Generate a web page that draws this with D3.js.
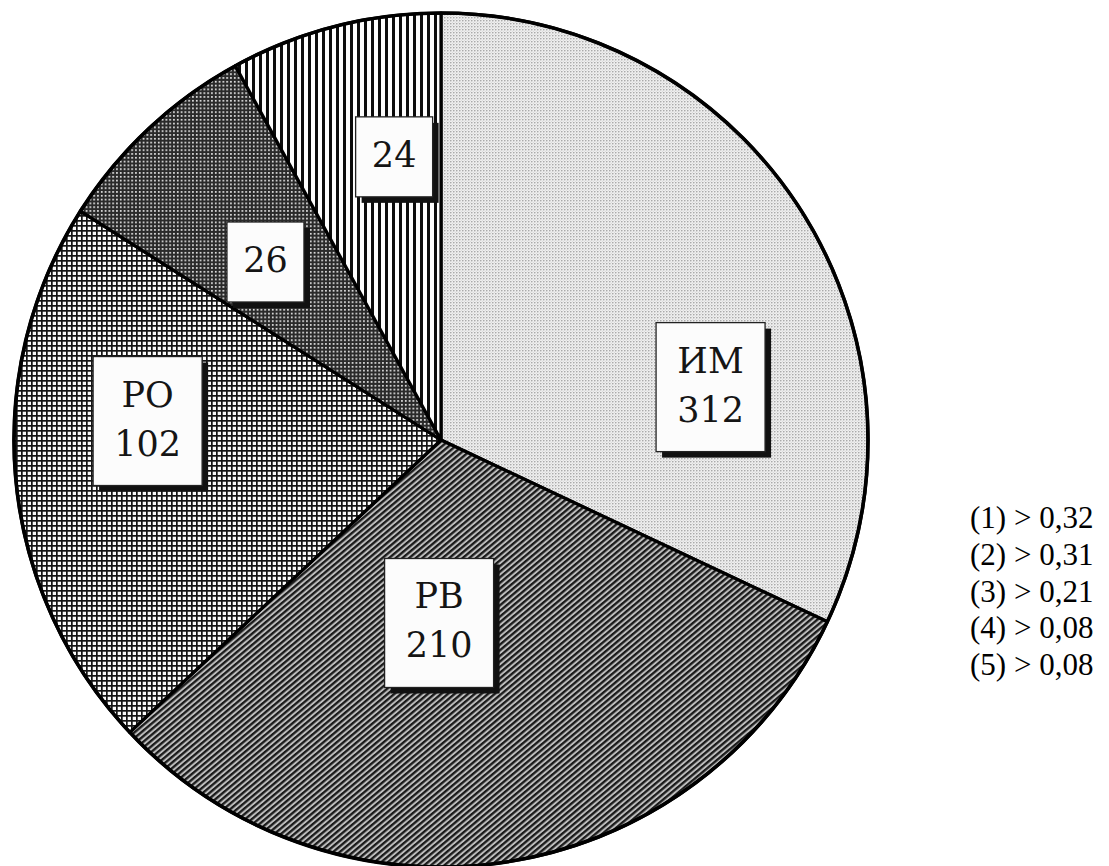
<!DOCTYPE html>
<html>
<head>
<meta charset="utf-8">
<script src="https://cdn.jsdelivr.net/npm/d3@7/dist/d3.min.js"></script>
<style>
  html, body { margin: 0; padding: 0; background: #fff; }
  svg { display: block; }
</style>
</head>
<body>
<svg id="chart" width="1109" height="866"></svg>
<script>
// Sector names and counts printed inside the boxes
const categories = ["ИМ", "РВ", "РО", "", ""];
const counts = [312, 210, 102, 26, 24];
// Share of each sector (legend values) — these set the angles
const shares = [0.32, 0.31, 0.21, 0.08, 0.08];
const legendLabels = ["(1) > 0,32", "(2) > 0,31", "(3) > 0,21", "(4) > 0,08", "(5) > 0,08"];

// Fill pattern used by each sector
const patternIds = ["stipple", "diag", "grid", "fineGrid", "vlines"];
// Label box placement: angle (deg, clockwise from top) and distance from centre
const labelAngle = [78.9, 180.6, 273.7, 315.4, 350.6];
const labelDist = [274.7, 183, 294, 250, 287];

const cx = 441, cy = 440, R = 427;
const svg = d3.select("#chart");
const defs = svg.append("defs");

// light stipple
{
  const p = defs.append("pattern").attr("id", "stipple").attr("patternUnits", "userSpaceOnUse")
    .attr("width", 3).attr("height", 3);
  p.append("rect").attr("width", 3).attr("height", 3).attr("fill", "#efefef");
  p.append("circle").attr("cx", 0.8).attr("cy", 0.8).attr("r", 0.75).attr("fill", "#959595");
  p.append("circle").attr("cx", 2.3).attr("cy", 2.3).attr("r", 0.45).attr("fill", "#c0c0c0");
}
// dense diagonal hatching
{
  const p = defs.append("pattern").attr("id", "diag").attr("patternUnits", "userSpaceOnUse")
    .attr("width", 10).attr("height", 4.3).attr("patternTransform", "rotate(-40)");
  p.append("rect").attr("width", 10).attr("height", 4.3).attr("fill", "#bdbdbd");
  p.append("rect").attr("y", 0).attr("width", 10).attr("height", 2.3).attr("fill", "#1a1a1a");
}
// square grid
{
  const s = 5;
  const p = defs.append("pattern").attr("id", "grid").attr("patternUnits", "userSpaceOnUse")
    .attr("width", s).attr("height", s);
  p.append("rect").attr("width", s).attr("height", s).attr("fill", "#fafafa");
  p.append("rect").attr("width", s).attr("height", 1.7).attr("fill", "#151515");
  p.append("rect").attr("width", 1.7).attr("height", s).attr("fill", "#151515");
}
// fine, dark grid
{
  const s = 3.8;
  const p = defs.append("pattern").attr("id", "fineGrid").attr("patternUnits", "userSpaceOnUse")
    .attr("width", s).attr("height", s);
  p.append("rect").attr("width", s).attr("height", s).attr("fill", "#2a2a2a");
  p.append("rect").attr("x", 1.9).attr("y", 1.9).attr("width", 1.7).attr("height", 1.7).attr("fill", "#e6e6e6");
}
// vertical lines
{
  const s = 7;
  const p = defs.append("pattern").attr("id", "vlines").attr("patternUnits", "userSpaceOnUse")
    .attr("width", s).attr("height", 10);
  p.append("rect").attr("width", s).attr("height", 10).attr("fill", "#fdfdfd");
  p.append("rect").attr("width", 3).attr("height", 10).attr("fill", "#0c0c0c");
}

const data = shares.map((s, i) => ({ share: s, name: categories[i], count: counts[i], i }));

const pie = d3.pie().sort(null).value(d => d.share).startAngle(0).endAngle(2 * Math.PI);
const arc = d3.arc().innerRadius(0).outerRadius(R);
const arcs = pie(data);

const g = svg.append("g").attr("transform", `translate(${cx},${cy})`);

g.selectAll("path.slice")
  .data(arcs)
  .join("path")
  .attr("class", "slice")
  .attr("d", arc)
  .attr("fill", d => `url(#${patternIds[d.data.i]})`)
  .attr("stroke", "#000")
  .attr("stroke-width", 3.2)
  .attr("stroke-linejoin", "round");

g.append("circle").attr("r", R).attr("fill", "none").attr("stroke", "#000").attr("stroke-width", 3.6);

// label boxes
const boxFont = "'DejaVu Serif', 'Liberation Serif', serif";
const fontSize = 35;
const lineGap = 49;

arcs.forEach(a => {
  const d = a.data;
  const lines = d.name ? [d.name, String(d.count)] : [String(d.count)];
  const ang = labelAngle[d.i] * Math.PI / 180;
  const lx = Math.sin(ang) * labelDist[d.i];
  const ly = -Math.cos(ang) * labelDist[d.i];

  const box = g.append("g").attr("transform", `translate(${lx},${ly})`);
  const shadow = box.append("rect");
  const rect = box.append("rect");
  const txt = box.append("g");

  const h = 50 + lineGap * (lines.length - 1) + 30;
  const top = -h / 2;
  lines.forEach((t, k) => {
    txt.append("text")
      .attr("x", 0)
      .attr("y", top + 50 + k * lineGap)
      .attr("text-anchor", "middle")
      .attr("font-family", boxFont)
      .attr("font-size", fontSize)
      .attr("fill", "#151515")
      .text(t);
  });
  const bb = txt.node().getBBox();
  const padX = lines.length > 1 ? 21 : 16;
  const w = Math.round(bb.width + padX * 2);
  shadow.attr("x", -w / 2 + 6).attr("y", top + 6).attr("width", w).attr("height", h).attr("fill", "#111");
  rect.attr("x", -w / 2).attr("y", top).attr("width", w).attr("height", h)
    .attr("fill", "#fcfcfc").attr("stroke", "#222").attr("stroke-width", 1.3);
});

// legend
const legend = svg.append("g").attr("transform", "translate(970,0)");
legend.selectAll("text")
  .data(legendLabels)
  .join("text")
  .attr("x", 0)
  .attr("y", (d, i) => 528 + i * 36.8)
  .attr("font-family", "'Liberation Serif', 'Times New Roman', serif")
  .attr("font-size", 31)
  .attr("fill", "#000")
  .attr("xml:space", "preserve")
  .text(d => d);
</script>
</body>
</html>
